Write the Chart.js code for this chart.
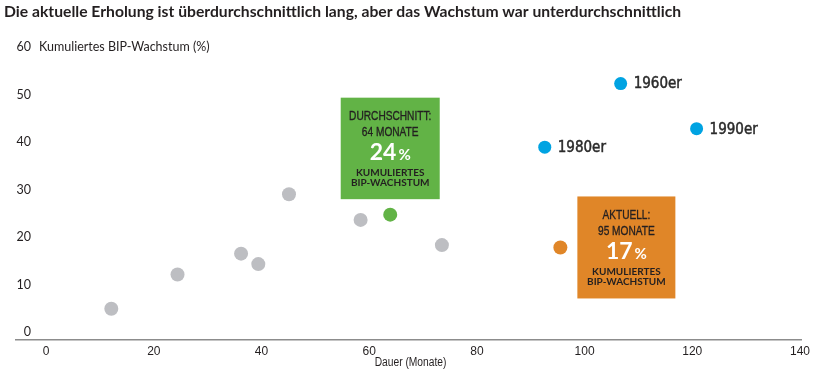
<!DOCTYPE html>
<html>
<head>
<meta charset="utf-8">
<script src="https://cdn.jsdelivr.net/npm/chart.js@4.4.1/dist/chart.umd.min.js"></script>
<style>
  html, body { margin: 0; padding: 0; background: #fff; }
  #wrap { width: 814px; height: 373px; }
</style>
</head>
<body>
<div id="wrap"><canvas id="chart"></canvas></div>
<script>
const TITLE = "Die aktuelle Erholung ist überdurchschnittlich lang, aber das Wachstum war unterdurchschnittlich";
const Y_TITLE = "Kumuliertes BIP-Wachstum (%)";
const X_TITLE = "Dauer (Monate)";

const xTicks = [0, 20, 40, 60, 80, 100, 120, 140];
const yTicks = [0, 10, 20, 30, 40, 50, 60];

// other recoveries (grey)
const otherX = [12.1, 24.4, 36.2, 39.4, 45.1, 58.4, 73.5];
const otherY = [4.9, 12.1, 16.5, 14.3, 29.0, 23.6, 18.3];

// labelled decades (blue)
const decadeLabels = ["1960er", "1980er", "1990er"];
const decadeX = [106.7, 92.6, 120.8];
const decadeY = [52.3, 38.9, 42.8];

const avgX = [63.9];
const avgY = [24.7];
const nowX = [95.5];
const nowY = [17.8];

const avgHead = ["DURCHSCHNITT:", "64 MONATE"];
const avgValue = "24";
const nowHead = ["AKTUELL:", "95 MONATE"];
const nowValue = "17";
const boxFoot = ["KUMULIERTES", "BIP-WACHSTUM"];

const INK = "#231f20";
const GREY = "#bdbec2";
const BLUE = "#00a3e2";
const GREEN = "#62b346";
const ORANGE = "#e08628";

function pts(xs, ys) {
  return xs.map((x, i) => ({ x: x, y: ys[i] }));
}

// condensed text: no narrow font installed, so squeeze a regular one
function narrowText(ctx, text, x, y, sx, stroke) {
  ctx.save();
  ctx.translate(x, y);
  ctx.scale(sx, 1);
  if (stroke) {
    ctx.lineWidth = stroke;
    ctx.strokeStyle = ctx.fillStyle;
    ctx.strokeText(text, 0, 0);
  }
  ctx.fillText(text, 0, 0);
  ctx.restore();
}

function drawBox(ctx, left, top, w, h, color, head, value) {
  ctx.save();
  ctx.fillStyle = color;
  ctx.fillRect(left, top, w, h);
  const cx = left + w / 2;
  ctx.textAlign = "center";
  ctx.textBaseline = "middle";
  ctx.fillStyle = INK;
  ctx.font = "13px 'Liberation Sans', Arial, sans-serif";
  narrowText(ctx, head[0], cx, top + 19, 0.78, 0.35);
  narrowText(ctx, head[1], cx, top + 34.5, 0.78, 0.35);

  // big percentage
  ctx.font = "bold 23px Lato, sans-serif";
  const w1 = ctx.measureText(value).width;
  ctx.font = "bold 15px Lato, sans-serif";
  const w2 = ctx.measureText("%").width;
  const start = cx - (w1 + 2 + w2) / 2;
  ctx.textAlign = "left";
  ctx.textBaseline = "alphabetic";
  ctx.fillStyle = "#ffffff";
  ctx.font = "bold 23px Lato, sans-serif";
  ctx.fillText(value, start, top + 62.5);
  ctx.font = "bold 15px Lato, sans-serif";
  ctx.fillText("%", start + w1 + 2, top + 62.5);

  ctx.textAlign = "center";
  ctx.textBaseline = "middle";
  ctx.fillStyle = INK;
  ctx.font = "bold 10px Lato, sans-serif";
  ctx.fillText(boxFoot[0], cx, top + 75);
  ctx.fillText(boxFoot[1], cx, top + 85.5);
  ctx.restore();
}

const labelPlugin = {
  id: "labels",
  afterDatasetsDraw(chart) {
    const ctx = chart.ctx;
    const xScale = chart.scales.x;
    const yScale = chart.scales.y;

    ctx.save();
    // y tick labels + axis title next to the top tick
    ctx.fillStyle = INK;
    ctx.font = "12.5px Lato, sans-serif";
    ctx.textBaseline = "middle";
    ctx.textAlign = "right";
    yTicks.forEach((v) => {
      ctx.fillText(String(v), 31, yScale.getPixelForValue(v));
    });
    ctx.textAlign = "left";
    ctx.fillText(Y_TITLE, 39, yScale.getPixelForValue(yTicks[yTicks.length - 1]));

    // x axis title
    ctx.textAlign = "center";
    ctx.font = "12.5px 'Liberation Sans', Arial, sans-serif";
    narrowText(ctx, X_TITLE, (xScale.left + xScale.right) / 2 + 2, 362.5, 0.82);

    // decade labels
    ctx.textAlign = "left";
    ctx.font = "15px 'DejaVu Sans Condensed', sans-serif";
    ctx.fillStyle = "#2a2a2a";
    const decMeta = chart.getDatasetMeta(1);
    decMeta.data.forEach((p, i) => {
      narrowText(ctx, decadeLabels[i], p.x + 13, p.y + 1, 1, 0.45);
    });
    ctx.restore();

    // average box above the green point
    const a = chart.getDatasetMeta(2).data[0];
    drawBox(ctx, a.x - 49.5, a.y - 15.5 - 101.5, 99, 101.5, GREEN, avgHead, avgValue);

    // current box right of the orange point
    const n = chart.getDatasetMeta(3).data[0];
    drawBox(ctx, n.x + 17, n.y - 51, 98, 102, ORANGE, nowHead, nowValue);
  },
};

new Chart(document.getElementById("chart"), {
  type: "scatter",
  data: {
    datasets: [
      { data: pts(otherX, otherY), backgroundColor: GREY, pointRadius: 7, borderWidth: 0 },
      { data: pts(decadeX, decadeY), backgroundColor: BLUE, pointRadius: 6.5, borderWidth: 0 },
      { data: pts(avgX, avgY), backgroundColor: GREEN, pointRadius: 7, borderWidth: 0 },
      { data: pts(nowX, nowY), backgroundColor: ORANGE, pointRadius: 7, borderWidth: 0 },
    ],
  },
  options: {
    responsive: true,
    maintainAspectRatio: false,
    animation: false,
    layout: { padding: { top: 0, left: 4, right: 10.5, bottom: 10.5 } },
    plugins: {
      legend: { display: false },
      tooltip: { enabled: false },
      title: {
        display: true,
        text: TITLE,
        align: "start",
        color: INK,
        font: { family: "Lato, sans-serif", size: 15.7, weight: "bold" },
        padding: { top: 3, bottom: 14.2 },
      },
    },
    scales: {
      x: {
        type: "linear",
        min: -5.6,
        max: 140.2,
        afterBuildTicks: (scale) => {
          scale.ticks = xTicks.map((v) => ({ value: v }));
        },
        grid: { display: false, drawTicks: false },
        border: { display: true, color: "#8c8c8c", width: 1.5 },
        ticks: {
          padding: 4,
          color: INK,
          maxRotation: 0,
          font: { family: "'Liberation Sans', Arial, sans-serif", size: 12 },
        },
      },
      y: {
        type: "linear",
        min: -1.7,
        max: 62.3,
        ticks: { display: false },
        grid: { display: false, drawTicks: false },
        border: { display: false },
        afterFit: (scale) => {
          scale.width = 12;
        },
      },
    },
  },
  plugins: [labelPlugin],
});
</script>
</body>
</html>
